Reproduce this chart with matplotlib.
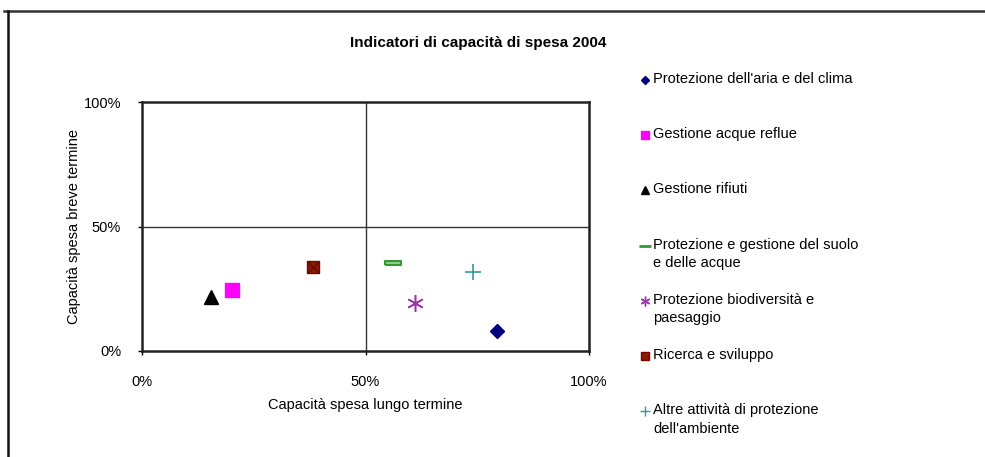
import matplotlib
matplotlib.use('Agg')
import matplotlib.pyplot as plt
from matplotlib.lines import Line2D
import matplotlib.ticker as ticker

plt.rcParams['font.family'] = ['Liberation Sans', 'DejaVu Sans']

# data: (lungo termine, breve termine) in %
series = ['Protezione dell\'aria e del clima',
          'Gestione acque reflue',
          'Gestione rifiuti',
          'Protezione e gestione del suolo\ne delle acque',
          'Protezione biodiversità e\npaesaggio',
          'Ricerca e sviluppo',
          'Altre attività di protezione\ndell\'ambiente']
lungo = [79.4, 20.1, 15.4, 56.2, 61.1, 38.3, 74.1]
breve = [8.0, 24.5, 21.7, 35.2, 19.4, 33.6, 31.8]

dash = [(-1, -0.3), (1, -0.3), (1, 0.3), (-1, 0.3), (-1, -0.3)]
styles = [
    dict(marker='D', ms=7, mfc='#000080', mec='#000080'),
    dict(marker='s', ms=10, mfc='#FF00FF', mec='#FF00FF'),
    dict(marker='^', ms=10, mfc='black', mec='black'),
    dict(marker=dash, ms=11, mfc='#99cc99', mec='#339933', mew=1.5),
    dict(marker=(6, 2, 0), ms=12, mfc='#9933aa', mec='#9933aa', mew=1.1),
    dict(marker='s', ms=9, mfc='#8b1a00', mec='#800000'),
    dict(marker='+', ms=11, mfc='#339999', mec='#339999', mew=1.2),
]
leg_styles = [
    dict(marker='D', ms=4, mfc='#000080', mec='#000080'),
    dict(marker='s', ms=6, mfc='#FF00FF', mec='#FF00FF'),
    dict(marker='^', ms=6, mfc='black', mec='black'),
    dict(marker='_', ms=8, mec='#339933', mew=2),
    dict(marker=(6, 2, 0), ms=7, mec='#9933aa', mew=1),
    dict(marker='s', ms=6, mfc='#8b1a00', mec='#800000'),
    dict(marker='+', ms=7, mec='#339999', mew=1),
]

fig = plt.figure(figsize=(9.85, 4.57), dpi=100)
ax = fig.add_axes([142/985, 1-351/457, 447/985, 249/457])

for i in range(len(series)):
    ax.plot(lungo[i], breve[i], linestyle='none', **styles[i])
# ricerca marker has a cross over the square
ax.plot(lungo[5], breve[5], linestyle='none', marker='x', ms=8, mec='#5a0a00', mew=0.8)

ax.set_xlim(0, 100)
ax.set_ylim(0, 100)
ax.set_xticks([0, 50, 100])
ax.set_yticks([0, 50, 100])
ax.xaxis.set_major_formatter(ticker.FuncFormatter(lambda v, p: '%d%%' % v))
ax.yaxis.set_major_formatter(ticker.FuncFormatter(lambda v, p: '%d%%' % v))
ax.tick_params(direction='out', length=3, width=1, labelsize=10.5, colors='black')
ax.tick_params(axis='x', pad=14)
ax.tick_params(axis='y', pad=12)
ax.axvline(50, color='#333333', lw=1, zorder=0)
ax.axhline(50, color='#333333', lw=1, zorder=0)
for s in ax.spines.values():
    s.set_linewidth(1.8)
    s.set_color('#222222')

ax.set_xlabel('Capacità spesa lungo termine', fontsize=10.5, labelpad=7)
ax.set_ylabel('Capacità spesa breve termine', fontsize=10.5, labelpad=2)

fig.text(478/985, 1-43/457, 'Indicatori di capacità di spesa 2004',
         ha='center', va='center', fontsize=11, fontweight='bold')

# legend, one slot per series
for i in range(len(series)):
    yc = 1 - (80 + i*55.2)/457
    fig.add_artist(Line2D([645/985], [yc], transform=fig.transFigure,
                          linestyle='none', **leg_styles[i]))
    fig.text(653/985, yc + 8/457, series[i], ha='left', va='top',
             fontsize=10.5, linespacing=1.4)

# frame of the picture
fig.add_artist(Line2D([4/985, 1], [1-11/457, 1-11/457], transform=fig.transFigure,
                      color='#333333', lw=1.8))
fig.add_artist(Line2D([7.5/985, 7.5/985], [0, 1-11/457], transform=fig.transFigure,
                      color='#111111', lw=1.8))

fig.savefig('out.png', dpi=100)
